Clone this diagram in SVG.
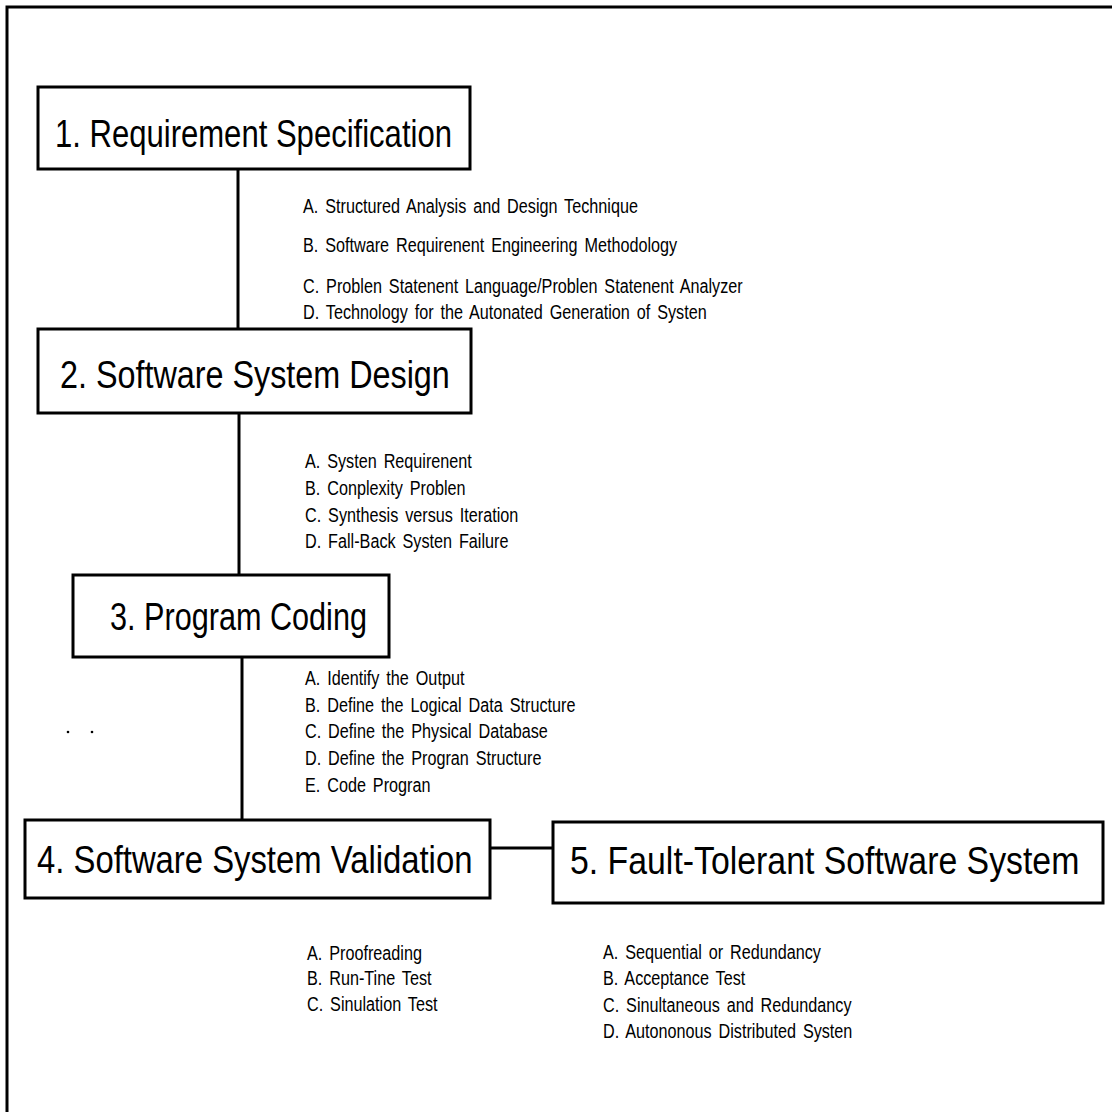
<svg xmlns="http://www.w3.org/2000/svg" width="1112" height="1112" viewBox="0 0 1112 1112">
  <style>
    .frame { fill: none; stroke: #000; stroke-width: 3; }
    .box { fill: #fff; stroke: #000; stroke-width: 3; }
    .link { fill: none; stroke: #000; stroke-width: 3; }
    .title { font-family: "Liberation Sans", Arial, sans-serif; font-size: 38px; fill: #000; }
    .item { font-family: "Liberation Sans", Arial, sans-serif; font-size: 20px; word-spacing: 3px; fill: #000; }
  </style>

  <rect x="0" y="0" width="1112" height="1112" fill="#fff"/>
  <!-- page frame: top and left edges only -->
  <path class="frame" d="M7,1112 V7 H1112"/>

  <!-- connectors -->
  <g id="connectors">
    <line class="link" x1="238" y1="169" x2="238" y2="329"/>
    <line class="link" x1="239" y1="413" x2="239" y2="575"/>
    <line class="link" x1="242" y1="657" x2="242" y2="820"/>
    <line class="link" x1="490" y1="848" x2="553" y2="848" stroke-width="4"/>
  </g>

  <!-- boxed stages; titles are condensed horizontally -->
  <g id="node-1">
    <rect class="box" x="38" y="87" width="432" height="82"/>
    <text class="title" transform="translate(55,147) scale(0.8175,1)">1. Requirement Specification</text>
  </g>

  <g id="node-2">
    <rect class="box" x="38" y="329" width="433" height="84"/>
    <text class="title" transform="translate(60,388) scale(0.851,1)">2. Software System Design</text>
  </g>

  <g id="node-3">
    <rect class="box" x="73" y="575" width="316" height="82"/>
    <text class="title" transform="translate(110,630) scale(0.806,1)">3. Program Coding</text>
  </g>

  <g id="node-4">
    <rect class="box" x="25" y="820" width="465" height="78"/>
    <text class="title" transform="translate(37,873) scale(0.864,1)">4. Software System Validation</text>
  </g>

  <g id="node-5">
    <rect class="box" x="553" y="822" width="550" height="81"/>
    <text class="title" transform="translate(570,874) scale(0.89,1)">5. Fault-Tolerant Software System</text>
  </g>

  <!-- item lists, horizontally condensed -->
  <g id="list-1" class="item" transform="translate(303,0) scale(0.81,1)">
    <text x="0" y="213">A. Structured Analysis and Design Technique</text>
    <text x="0" y="252">B. Software Requirenent Engineering Methodology</text>
    <text x="0" y="293">C. Problen Statenent Language/Problen Statenent Analyzer</text>
    <text x="0" y="319">D. Technology for the Autonated Generation of Systen</text>
  </g>

  <g id="list-2" class="item" transform="translate(305,0) scale(0.81,1)">
    <text x="0" y="468">A. Systen Requirenent</text>
    <text x="0" y="495">B. Conplexity Problen</text>
    <text x="0" y="522">C. Synthesis versus Iteration</text>
    <text x="0" y="548">D. Fall-Back Systen Failure</text>
  </g>

  <g id="list-3" class="item" transform="translate(305,0) scale(0.81,1)">
    <text x="0" y="685">A. Identify the Output</text>
    <text x="0" y="712">B. Define the Logical Data Structure</text>
    <text x="0" y="738">C. Define the Physical Database</text>
    <text x="0" y="765">D. Define the Progran Structure</text>
    <text x="0" y="792">E. Code Progran</text>
  </g>

  <g id="list-4" class="item" transform="translate(307,0) scale(0.81,1)">
    <text x="0" y="960">A. Proofreading</text>
    <text x="0" y="985">B. Run-Tine Test</text>
    <text x="0" y="1011">C. Sinulation Test</text>
  </g>

  <g id="list-5" class="item" transform="translate(603,0) scale(0.81,1)">
    <text x="0" y="959">A. Sequential or Redundancy</text>
    <text x="0" y="985">B. Acceptance Test</text>
    <text x="0" y="1012">C. Sinultaneous and Redundancy</text>
    <text x="0" y="1038">D. Autononous Distributed Systen</text>
  </g>

  <!-- stray specks -->
  <circle cx="68" cy="732" r="1.3" fill="#000"/>
  <circle cx="92" cy="732" r="1.3" fill="#000"/>
</svg>
